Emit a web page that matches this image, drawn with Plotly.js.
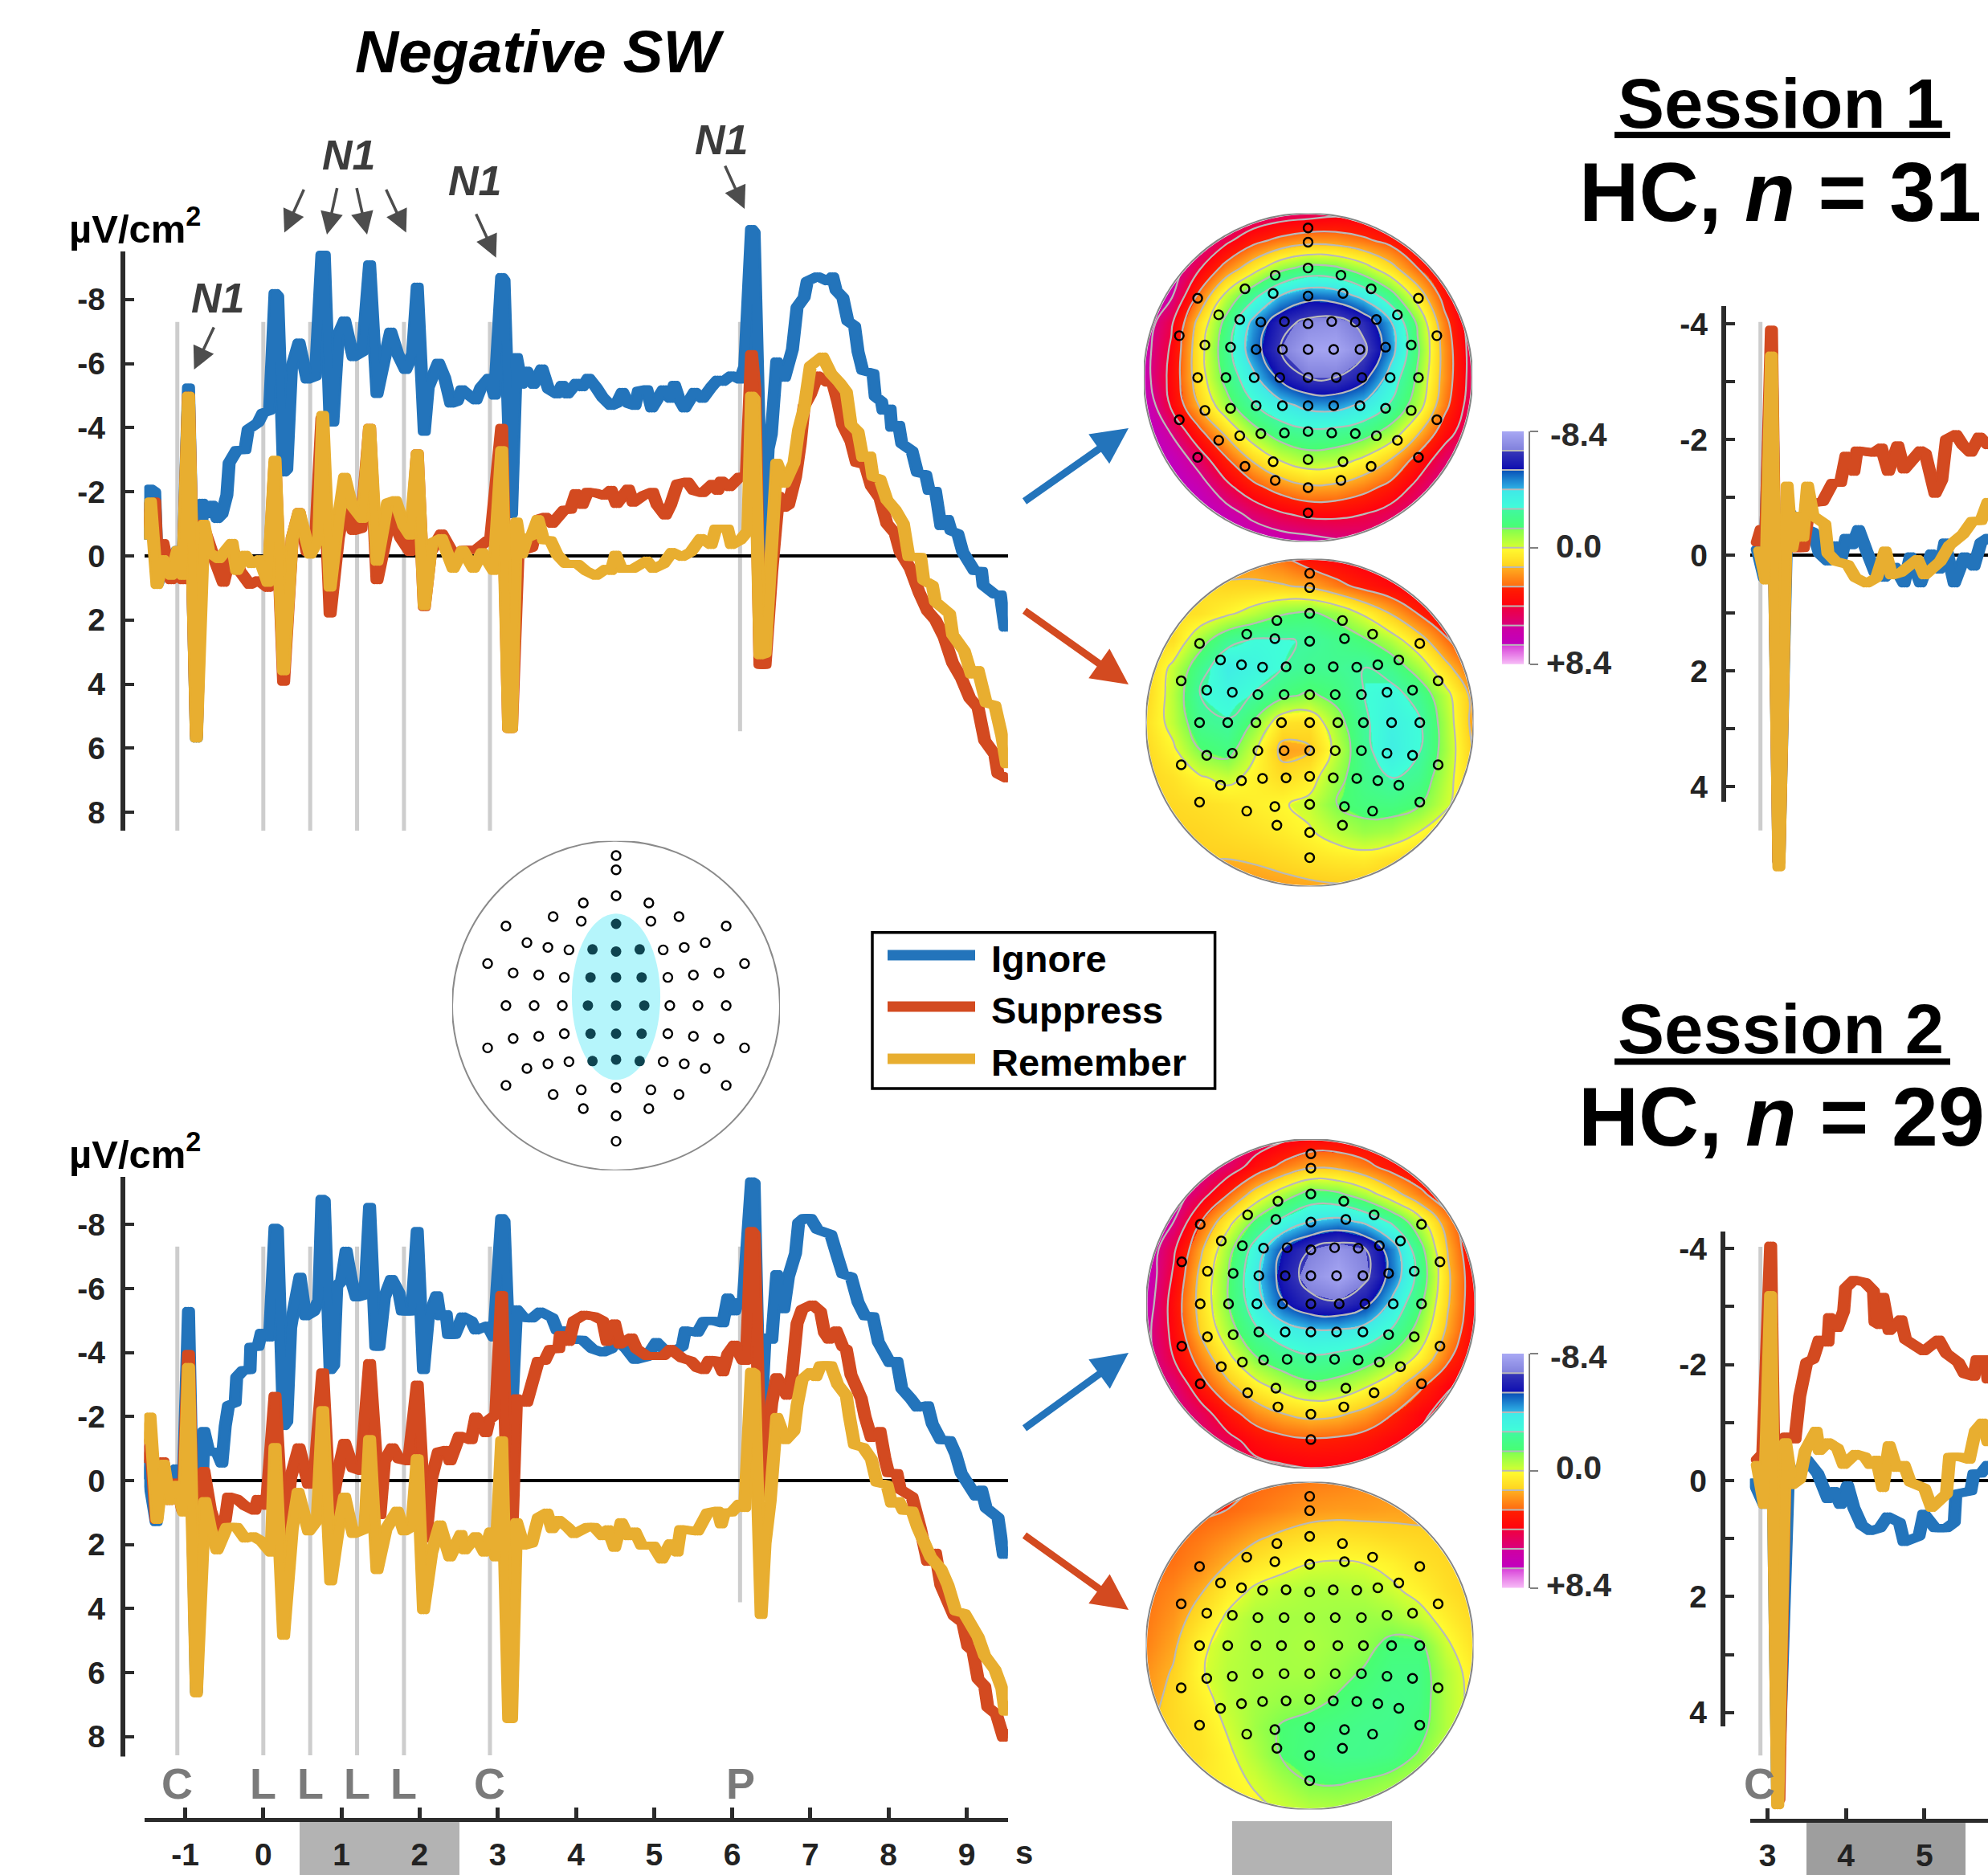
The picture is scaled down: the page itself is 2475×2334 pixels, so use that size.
<!DOCTYPE html>
<html><head><meta charset="utf-8">
<script src="https://cdn.plot.ly/plotly-3.0.1.min.js"></script>
<style>html,body{margin:0;padding:0;background:#fff}#chart{width:2475px;height:2334px}</style>
</head><body><div id="chart"></div>
<script>
// ---------- DATA: [seconds, µV/cm²] ----------
const s1Ignore=[[-1.54,-.63],[-1.45,-2.1],[-1.39,-2],[-1.35,.84],[-1.28,.1],[-1.18,.62],[-1.1,-.19],[-1.03,.62],[-.957,-5.26],[-.856,5.7],[-.78,-1.66],[-.7,-1.3],[-.655,-1.6],[-.59,-1.15],[-.53,-1.3],[-.466,-1.9],[-.437,-2.9],[-.34,-3.3],[-.235,-3.3],[-.193,-3.95],[-.067,-4.16],[-.005,-4.46],[.08,-4.53],[.15,-8.2],[.184,-8.1],[.26,-2.6],[.3,-2.7],[.36,-5.85],[.457,-6.66],[.56,-5.5],[.667,-5.6],[.75,-9.4],[.78,-9.4],[.855,-4.16],[.89,-4.16],[.96,-6.9],[1.04,-7.35],[1.15,-6.2],[1.27,-6.37],[1.36,-9.1],[1.455,-5.05],[1.55,-6.15],[1.63,-7],[1.72,-6.3],[1.82,-5.8],[1.91,-6.3],[1.97,-8.4],[2.06,-3.87],[2.11,-5.26],[2.24,-6.03],[2.32,-5.56],[2.4,-4.75],[2.48,-4.82],[2.54,-5.2],[2.64,-5],[2.72,-4.85],[2.785,-5.26],[2.89,-5.56],[2.96,-5],[3.05,-8.7],[3.08,-8.6],[3.176,-1.3],[3.24,-6.2],[3.306,-5.34],[3.37,-5.78],[3.457,-5.34],[3.565,-5.85],[3.65,-5.2],[3.76,-5.04],[3.825,-5.34],[3.89,-5.04],[4.007,-5.4],[4.08,-5.26],[4.16,-5.56],[4.257,-5.26],[4.344,-4.94],[4.45,-4.68],[4.52,-4.75],[4.595,-5.12],[4.67,-4.75],[4.755,-4.68],[4.8,-5.15],[4.906,-5.2],[4.97,-4.6],[5.12,-5.2],[5.21,-4.9],[5.26,-5.34],[5.32,-4.9],[5.39,-4.6],[5.52,-5.12],[5.62,-4.9],[5.73,-5.26],[5.815,-5.5],[5.88,-5.43],[5.99,-5.63],[6.1,-5.5],[6.16,-5.9],[6.247,-10.2],[6.28,-10.1],[6.385,.1],[6.46,-3.35],[6.5,-3.8],[6.57,-6.07],[6.67,-5.56],[6.77,-6.44],[6.83,-7.76],[6.92,-8.06],[6.96,-8.57],[7.09,-8.72],[7.22,-8.57],[7.285,-8.72],[7.33,-8.28],[7.415,-8.06],[7.48,-7.32],[7.565,-7.18],[7.61,-6.37],[7.67,-5.78],[7.8,-5.7],[7.83,-4.97],[7.91,-4.82],[7.93,-4.53],[8.02,-4.6],[8.04,-4],[8.13,-4.09],[8.17,-3.5],[8.3,-3.28],[8.37,-2.6],[8.475,-2.54],[8.52,-2.03],[8.6,-2.03],[8.67,-.93],[8.755,-1.15],[8.8,-.78],[8.885,-.7],[8.95,-.12],[9.1,.47],[9.19,.47],[9.21,.91],[9.36,1.2],[9.43,1.2],[9.49,2.24]];
const s1Suppress=[[-1.536,-1],[-1.45,-1.6],[-1.39,-1.7],[-1.35,.6],[-1.284,-.4],[-1.18,.76],[-1.095,.47],[-1.03,.76],[-.957,-5],[-.856,5.6],[-.78,-1],[-.655,-.1],[-.51,.84],[-.4,-.26],[-.3,.47],[-.17,.9],[-.067,.76],[.06,1],[.15,-2.9],[.26,3.93],[.37,-.56],[.457,-1.37],[.56,-.12],[.667,-.4],[.75,-4.3],[.855,1.8],[.96,-.56],[1.04,-1.6],[1.15,-.78],[1.25,-.85],[1.36,-4],[1.455,.76],[1.63,-1.3],[1.76,-.56],[1.88,-.12],[1.97,-3.2],[2.06,1.6],[2.14,-.12],[2.28,-.7],[2.45,.03],[2.55,-.19],[2.72,-.19],[2.91,-.56],[3.05,-4],[3.14,5.4],[3.176,5.4],[3.26,-.12],[3.435,-.26],[3.52,-1.15],[3.61,-1.22],[3.695,-1],[3.85,-1.44],[3.93,-1.44],[4,-1.96],[4.08,-1.59],[4.15,-2],[4.257,-1.96],[4.365,-1.88],[4.45,-2.06],[4.52,-1.62],[4.67,-2.1],[4.733,-1.66],[4.86,-1.88],[4.98,-2],[5.04,-1.59],[5.144,-1.26],[5.21,-1.59],[5.3,-2.25],[5.425,-2.32],[5.51,-2.03],[5.62,-1.96],[5.75,-2.25],[5.815,-2.03],[5.86,-2.35],[5.965,-2.15],[6.095,-2.47],[6.18,-2.47],[6.247,-6.3],[6.29,-5.2],[6.355,3.4],[6.42,3.4],[6.506,.47],[6.593,-1.88],[6.66,-1.5],[6.72,-1.59],[6.81,-2.47],[6.87,-3.5],[6.92,-4.68],[7,-5.04],[7.09,-5.63],[7.22,-5.41],[7.285,-5.41],[7.35,-4.82],[7.415,-4.09],[7.52,-3.57],[7.59,-2.91],[7.7,-2.84],[7.78,-2.18],[7.89,-1.8],[7.98,-1],[8.085,-.7],[8.15,-.12],[8.28,.4],[8.39,1.13],[8.5,1.72],[8.6,2],[8.71,2.53],[8.82,3.34],[8.93,3.8],[9.04,4.44],[9.145,4.73],[9.23,5.76],[9.36,6.2],[9.4,6.8],[9.51,6.94]];
const s1Remember=[[-1.536,-.63],[-1.444,-1.7],[-1.36,.91],[-1.284,.1],[-1.18,.62],[-1.095,-.19],[-1.03,.62],[-.957,-5],[-.856,5.7],[-.76,-1],[-.697,-.12],[-.57,.1],[-.4,-.41],[-.34,.47],[-.235,-.04],[-.15,.25],[-.046,.1],[.06,.84],[.15,-3],[.26,3.6],[.37,-.56],[.457,-1.37],[.6,-.04],[.71,-.56],[.76,-4.4],[.855,.99],[.96,-1.15],[1.04,-2.47],[1.13,-1.59],[1.27,-1.15],[1.36,-4],[1.455,.18],[1.59,-1.66],[1.69,-1.74],[1.8,-.93],[1.88,-.63],[1.97,-3.2],[2.06,1.57],[2.155,-.41],[2.28,-.56],[2.43,.4],[2.55,-.19],[2.69,.4],[2.8,-.12],[2.95,.47],[3.05,-3.3],[3.14,5.4],[3.176,5.4],[3.24,-1.07],[3.306,-.04],[3.37,-.56],[3.435,-.63],[3.513,-1.15],[3.587,-.49],[3.673,-.49],[3.76,-.04],[3.87,.25],[4.02,.25],[4.13,.47],[4.257,.62],[4.387,.4],[4.45,.47],[4.508,-.04],[4.58,.4],[4.733,.4],[4.906,.15],[4.99,.4],[5.12,.25],[5.23,-.12],[5.36,.03],[5.47,-.12],[5.6,-.56],[5.73,-.34],[5.79,-.85],[5.94,-.85],[5.99,-.34],[6.1,-.49],[6.2,-.78],[6.247,-5],[6.28,-4.9],[6.355,3.1],[6.42,3.05],[6.485,.47],[6.57,-2.91],[6.67,-2.25],[6.79,-2.9],[6.85,-3.94],[6.92,-4.6],[7,-5.93],[7.155,-6.22],[7.26,-5.7],[7.37,-5.41],[7.46,-5.12],[7.52,-4.09],[7.61,-3.87],[7.67,-3.06],[7.76,-3.13],[7.8,-2.47],[7.89,-2.4],[7.98,-1.74],[8.085,-1.44],[8.19,-1],[8.26,.03],[8.41,.03],[8.45,.76],[8.56,.91],[8.6,1.43],[8.78,1.8],[8.82,2.46],[8.97,2.97],[9.06,3.7],[9.145,3.56],[9.25,4.59],[9.36,4.66],[9.45,5.62],[9.51,6.5]];
const s2Ignore=[[-1.536,-.16],[-1.494,-.53],[-1.37,1.3],[-1.284,-.53],[-1.2,.28],[-1.116,-.38],[-1.03,.64],[-.957,-5.3],[-.856,6.6],[-.76,-1.55],[-.697,-.9],[-.592,-.9],[-.53,-.53],[-.487,-1.7],[-.445,-2.35],[-.36,-2.43],[-.34,-3.23],[-.256,-3.45],[-.17,-3.45],[-.16,-4.18],[-.067,-4.18],[-.025,-4.62],[.08,-4.47],[.15,-7.9],[.18,-7.85],[.26,-1.7],[.3,-1.84],[.35,-4.77],[.39,-5.35],[.47,-6.37],[.54,-5.13],[.645,-5.28],[.71,-5.64],[.75,-8.8],[.78,-8.75],[.855,-3.45],[.9,-3.6],[.94,-6.08],[1,-6.23],[1.06,-7.18],[1.13,-6.23],[1.19,-5.72],[1.3,-5.79],[1.36,-8.55],[1.44,-4.18],[1.48,-4.18],[1.55,-5.72],[1.64,-6.3],[1.736,-5.86],[1.78,-5.28],[1.9,-5.28],[1.97,-7.8],[2.05,-3.45],[2.11,-5.06],[2.22,-5.79],[2.26,-5.13],[2.34,-5.2],[2.37,-4.55],[2.45,-4.55],[2.55,-5.13],[2.66,-4.99],[2.72,-4.69],[2.87,-4.84],[2.95,-4.47],[3.05,-8.2],[3.08,-8.1],[3.176,-2],[3.24,-5.35],[3.33,-5.09],[3.435,-5.06],[3.544,-5.28],[3.695,-5.09],[3.76,-4.69],[3.87,-4.69],[3.955,-4.4],[4.084,-4.4],[4.214,-4.11],[4.344,-4],[4.45,-4.11],[4.52,-4.4],[4.647,-4.11],[4.755,-3.77],[4.906,-3.86],[5.03,-4.33],[5.12,-4.11],[5.25,-4.04],[5.36,-4.18],[5.4,-4.69],[5.555,-4.62],[5.64,-4.99],[5.77,-4.99],[5.88,-4.91],[5.945,-5.72],[6.03,-5.28],[6.07,-5.57],[6.14,-5.57],[6.247,-9.35],[6.28,-9.3],[6.355,-1.26],[6.42,-4.47],[6.506,-4.4],[6.57,-6.45],[6.66,-5.35],[6.72,-6.37],[6.81,-7.1],[6.85,-8.06],[6.92,-8.2],[7,-8.2],[7.09,-7.84],[7.26,-7.69],[7.35,-6.96],[7.415,-6.45],[7.52,-6.37],[7.61,-5.57],[7.7,-5.13],[7.8,-5.13],[7.87,-4.33],[8.02,-3.67],[8.107,-3.74],[8.17,-2.87],[8.28,-2.57],[8.37,-2.28],[8.5,-2.35],[8.56,-1.77],[8.67,-1.26],[8.78,-1.26],[8.86,-.82],[8.93,-.23],[9.12,.5],[9.19,.28],[9.25,.86],[9.4,1.15],[9.47,2.32],[9.51,2.18]];
const s2Suppress=[[-1.536,-.67],[-1.444,-1.26],[-1.37,1.23],[-1.284,-.6],[-1.2,.64],[-1.116,.06],[-1.03,.94],[-.957,-3.96],[-.856,5.8],[-.76,-.3],[-.675,.94],[-.57,1.67],[-.487,1.23],[-.445,.5],[-.34,.57],[-.235,.79],[-.11,.94],[-.067,.57],[.04,.79],[.15,-2.65],[.26,2.1],[.35,-.09],[.457,-1.04],[.58,.13],[.667,-.53],[.76,-3.38],[.855,1.08],[.94,-.09],[1.04,-1.18],[1.15,-.38],[1.25,-.3],[1.36,-3.67],[1.493,1.08],[1.55,-.6],[1.65,-1.04],[1.736,-.67],[1.86,-.6],[1.97,-3],[2.08,1.81],[2.155,-.09],[2.24,-.9],[2.34,-.96],[2.39,-.6],[2.51,-1.4],[2.66,-1.26],[2.72,-2],[2.85,-1.48],[2.89,-1.9],[2.975,-2.06],[3.05,-5.8],[3.14,1.81],[3.176,1.96],[3.24,-2.57],[3.37,-2.43],[3.435,-3],[3.52,-3.74],[3.6,-3.74],[3.673,-4.11],[3.78,-4.11],[3.8,-4.55],[3.91,-4.33],[3.976,-4.99],[4.106,-5.18],[4.236,-5.13],[4.344,-4.99],[4.4,-4.33],[4.452,-4.84],[4.495,-4.91],[4.56,-4.25],[4.71,-4.47],[4.776,-4.11],[4.906,-3.89],[5.12,-3.89],[5.21,-4.11],[5.36,-3.82],[5.47,-3.74],[5.555,-3.52],[5.64,-3.45],[5.706,-3.77],[5.815,-3.74],[5.88,-3.38],[5.945,-3.96],[6.03,-4.25],[6.14,-3.74],[6.18,-3.74],[6.247,-7.8],[6.28,-7.7],[6.37,.5],[6.42,-1.4],[6.46,-1.4],[6.506,-2.43],[6.57,-3.23],[6.7,-2.65],[6.765,-3.3],[6.83,-4.91],[6.895,-5.35],[7.025,-5.5],[7.13,-5.28],[7.18,-4.62],[7.24,-4.4],[7.33,-4.69],[7.415,-4.18],[7.46,-4.1],[7.52,-3.3],[7.65,-2.57],[7.7,-1.99],[7.78,-1.33],[7.89,-1.55],[7.955,-.67],[8,-.23],[8.107,-.23],[8.15,.28],[8.3,.5],[8.41,1.52],[8.5,2.54],[8.6,2.25],[8.67,3.27],[8.84,4.23],[8.95,4.44],[9.015,5.18],[9.08,5.32],[9.145,6.2],[9.23,6.42],[9.27,7.08],[9.38,7.3],[9.47,8.03],[9.51,7.88]];
const s2Remember=[[-1.536,-1.26],[-1.45,-2],[-1.36,1.23],[-1.276,-.53],[-1.2,.64],[-1.108,.13],[-1.02,1],[-.957,-3.55],[-.856,6.65],[-.747,.64],[-.675,1.52],[-.592,2.18],[-.466,1.45],[-.34,1.45],[-.235,1.81],[-.13,1.74],[-.025,1.89],[.1,2.25],[.15,-1.05],[.26,4.85],[.37,1.52],[.445,.35],[.58,1.59],[.69,1.23],[.76,-2.2],[.863,3.15],[.96,1.52],[1.04,.5],[1.15,1.67],[1.3,1.52],[1.36,-1.3],[1.455,2.8],[1.57,1.52],[1.715,.94],[1.8,1.59],[1.9,1.45],[1.97,-.7],[2.05,4.05],[2.155,2.25],[2.26,1.37],[2.387,2.4],[2.53,1.67],[2.575,2.18],[2.72,1.74],[2.83,2.25],[2.91,1.59],[2.975,2.4],[3.05,-1.26],[3.14,7.45],[3.176,7.45],[3.24,1.3],[3.33,2.03],[3.435,1.96],[3.52,1.15],[3.63,1],[3.695,1.52],[3.78,1.23],[3.89,1.45],[3.976,1.67],[4.15,1.45],[4.236,1.45],[4.344,1.74],[4.41,1.52],[4.495,2.1],[4.58,1.3],[4.668,1.74],[4.755,1.59],[4.84,2.03],[4.99,2.03],[5.1,2.47],[5.21,1.96],[5.295,2.25],[5.34,1.52],[5.555,1.59],[5.685,1],[5.815,.94],[5.86,1.37],[5.9,1],[5.99,1],[6.096,.72],[6.16,.86],[6.247,-3.4],[6.28,-3.35],[6.37,4.2],[6.42,1.96],[6.485,.64],[6.57,-1.99],[6.68,-1.26],[6.79,-1.55],[6.83,-2.35],[6.895,-3.16],[7,-3.38],[7.07,-3.23],[7.13,-3.6],[7.26,-3.6],[7.35,-3],[7.46,-2.65],[7.5,-1.99],[7.565,-1.11],[7.675,-1.04],[7.78,-.67],[7.85,.06],[7.98,.13],[8.04,.72],[8.13,.64],[8.19,.94],[8.3,.94],[8.37,1.45],[8.54,2.4],[8.67,2.76],[8.76,3.27],[8.86,4.08],[8.97,4.15],[9.145,4.88],[9.23,5.47],[9.36,5.9],[9.45,6.49],[9.49,7.22],[9.53,7]];
const r1Ignore=[[2.87,-.1],[2.96,.4],[3.05,-3.4],[3.145,5.3],[3.25,-.8],[3.4,-.5],[3.58,-.4],[3.66,-.03],[3.77,.11],[3.85,-.17],[3.93,.11],[4,-.3],[4.08,-.17],[4.16,-.45],[4.26,-.08],[4.37,.3],[4.49,.39],[4.62,.2],[4.74,.49],[4.82,.02],[4.95,.49],[5.09,-.03],[5.19,.25],[5.26,-.22],[5.38,.49],[5.51,.02],[5.63,.2],[5.72,-.22],[5.81,-.3]];
const r1Suppress=[[2.87,-.22],[2.92,-.45],[2.98,-.4],[3.05,-3.9],[3.145,5.3],[3.23,-.12],[3.456,-.12],[3.54,-.9],[3.7,-.92],[3.83,-1.25],[3.93,-1.25],[4,-1.72],[4.1,-1.44],[4.14,-1.81],[4.35,-1.77],[4.45,-1.86],[4.54,-1.44],[4.66,-1.9],[4.74,-1.48],[4.95,-1.81],[5.01,-1.76],[5.135,-1.06],[5.22,-1.3],[5.28,-2],[5.4,-2.09],[5.49,-1.9],[5.59,-1.77],[5.7,-2.05],[5.81,-1.9]];
const r1Remember=[[2.9,-.08],[2.98,.44],[3.05,-3.45],[3.145,5.4],[3.25,-1.2],[3.31,-.12],[3.39,-.68],[3.45,-.3],[3.51,-1.2],[3.58,-.68],[3.73,-.54],[3.77,-.03],[3.87,.11],[4.02,.16],[4.12,.39],[4.265,.49],[4.39,.39],[4.5,-.08],[4.58,.35],[4.7,.3],[4.91,.07],[5,.35],[5.2,.11],[5.32,-.17],[5.49,-.36],[5.61,-.59],[5.72,-.59],[5.81,-.92]];
const r2Ignore=[[2.83,.03],[2.96,.42],[3.04,-3.1],[3.13,5.5],[3.27,-.27],[3.35,.03],[3.5,-.36],[3.64,-.12],[3.77,.32],[3.85,.18],[3.93,.42],[4.02,.08],[4.1,.47],[4.2,.77],[4.31,.87],[4.43,.82],[4.53,.62],[4.68,.72],[4.74,1.06],[4.93,.96],[4.99,.57],[5.135,.82],[5.28,.82],[5.38,.72],[5.4,.23],[5.59,.18],[5.63,-.12],[5.72,-.12],[5.81,-.27]];
const r2Suppress=[[2.87,-.36],[2.94,-.46],[3.04,-4.05],[3.145,5.5],[3.23,-.76],[3.35,-.71],[3.41,-1.45],[3.5,-2.04],[3.58,-2.09],[3.66,-2.43],[3.77,-2.38],[3.79,-2.82],[3.89,-2.63],[3.97,-2.92],[3.995,-3.32],[4.1,-3.46],[4.24,-3.42],[4.35,-3.27],[4.37,-2.73],[4.43,-2.68],[4.47,-3.17],[4.55,-2.58],[4.7,-2.78],[4.76,-2.43],[4.99,-2.23],[5.18,-2.43],[5.28,-2.19],[5.43,-2.04],[5.51,-1.84],[5.63,-1.79],[5.67,-2.09],[5.78,-2.09],[5.81,-1.74]];
const r2Remember=[[2.87,-.27],[2.96,.42],[3.04,-3.2],[3.13,5.6],[3.23,-.66],[3.31,.08],[3.41,-.02],[3.48,-.51],[3.62,-.86],[3.66,-.51],[3.77,-.66],[3.89,-.56],[3.97,-.27],[4.12,-.46],[4.24,-.41],[4.31,-.27],[4.39,-.36],[4.47,.13],[4.55,-.61],[4.64,-.22],[4.74,-.27],[4.82,.03],[5,.13],[5.09,.47],[5.28,.23],[5.32,-.41],[5.45,-.41],[5.57,-.36],[5.65,-.86],[5.74,-1],[5.81,-.66]];

const seriesNames=['Ignore','Suppress','Remember'];
const seriesColors=['#2374bb','#d34a20','#e8ae30'];
const leftTickVals=[-8,-6,-4,-2,0,2,4,6,8];
const leftTickText=['-8','-6','-4','-2','0','2','4','6','8'];
const rightTickVals=[-4,-2,0,2,4];
const rightTickText=['-4','-2','0','2','4'];
const rightMinorTicks=[-3,-1,1,3];
const leftTimeTicks=[-1,0,1,2,3,4,5,6,7,8,9];
const leftTimeText=['-1','0','1','2','3','4','5','6','7','8','9'];
const rightTimeTicks=[3,4,5];
const rightTimeText=['3','4','5'];
const cueTimes=[-1.1,0,.6,1.2,1.8,2.9];
const cueLabels=['C','L','L','L','L','C'];
const probeTime=6.1;

// topographic maps: µV/cm² on a 13×13 grid across the head, front at top
const gridAxis=[-1,-.833,-.667,-.5,-.333,-.167,0,.167,.333,.5,.667,.833,1];
const map1Z=[[6,6,6,6,5.5,5,4.8,4.5,4.5,5,5,5,5],
[6.5,6.5,6,4.5,3.2,2.4,1.9,2,2.5,3.2,4.2,5,5],
[7,6.5,4.4,2.3,.6,-1,-1.8,-1.6,-.6,.9,2.8,4.2,5],
[7,5.8,2.6,-.3,-2.4,-4.2,-5.1,-4.9,-3.8,-2,.6,3.4,5.5],
[6.5,4.4,1,-1.8,-4.6,-6.5,-7.4,-7.6,-6.6,-4.4,-1.2,2.4,5],
[6.2,4,.6,-2.2,-5,-7,-8.2,-8.3,-7.4,-4.8,-1.6,2,4.8],
[6.2,3.8,.7,-1.8,-3.9,-5.9,-7,-7,-6.1,-3.7,-1.2,2,4.8],
[6.8,4,1.4,-.9,-2.7,-3.8,-4.6,-4.7,-4,-2.7,-.7,2.4,5],
[7.5,5.5,3.2,1.1,-.9,-2.1,-2.5,-2.4,-2,-.9,1.2,3.6,5.2],
[7.8,6.8,5,3,1.2,-.1,-.8,-.6,.2,1.4,3.3,5,6],
[8,7.5,6.4,4.6,3.2,2.2,1.6,1.7,2.3,3.2,4.6,6,6.5],
[8,8,7.4,6.3,5.2,4.4,3.9,3.9,4.2,4.8,5.5,6.5,7],
[8,8,8,7.5,6.8,6.4,6.2,5.8,5.5,5.5,6,7,7]];
const map2Z=[[2,2,2,2,2,2.6,3.5,4,4.4,4.6,4.6,4.6,4.6],
[1,1,1,1.2,1.2,1.3,1.6,2.4,3.2,3.8,4.4,4.6,4.6],
[1,1,.8,.2,-.5,-1.3,-1.6,-1,.2,1.5,2.9,4,4.6],
[1.2,.9,-.9,-2.4,-3,-2.9,-2.7,-2.2,-1.6,-.6,.8,2.6,4.2],
[1.2,-.3,-2.2,-3.9,-3.4,-2.8,-2.4,-2.4,-2.8,-2.2,-.8,1,2.8],
[1.2,-.5,-2.8,-3.3,-2.7,-1.7,-1.2,-1.8,-2.8,-3.3,-2.3,-.4,1.8],
[.9,-.4,-2.3,-2.7,-1.2,.8,.9,-.9,-2.6,-3.6,-3,-.7,1.8],
[1.1,.2,-1.4,-1.9,-.1,1.7,1.5,-.4,-2.4,-3.8,-2.9,-.8,1.5],
[1.2,.8,.1,-.3,.3,1,.5,-1,-2.2,-2.9,-2.3,-.5,1.3],
[1.2,1.1,.9,.7,.4,.1,-.3,-1.4,-1.8,-1.9,-1.5,-.2,1],
[1.4,1.3,1.2,1,.8,.5,.1,-.5,-1,-.8,0,.8,1.2],
[1.6,1.5,1.4,1.4,1.3,1.1,.8,.6,.5,.9,1.2,1.4,1.6],
[1.8,1.8,1.8,1.8,1.8,1.7,1.6,1.5,1.5,1.6,1.6,1.6,1.6]];
const map3Z=[[6,6,6,6,5,4.4,3.8,3.8,4,4,4,4.2,4.2],
[7,6.8,6,5,3.6,2.4,1.6,1.7,2.4,3.4,4,4.4,4.4],
[7.2,6.4,4.8,2.8,.8,-.7,-1.9,-1.6,-.6,.9,2.5,3.9,4.5],
[7,5.6,2.8,.4,-1.7,-3.2,-4.2,-4.6,-3.9,-2.5,-.4,2.2,4.2],
[6.6,4.4,1.6,-1,-3.4,-5.7,-7,-7.7,-7,-4.8,-1.8,1.5,4.1],
[6.6,4,1,-1.4,-3.9,-6.2,-7.6,-8.3,-7.3,-5,-2.2,1.2,3.8],
[6.4,3.6,.9,-1.4,-3.6,-5.5,-6.6,-6.8,-5.9,-3.8,-1.6,1.3,3.8],
[6,3.8,1.2,-.8,-2.6,-3.5,-4,-4,-3.6,-2.6,-.8,1.7,4],
[6.2,4.2,2.2,.3,-1.3,-2.2,-2.6,-2.4,-2,-1,.4,2.6,4.2],
[6.5,5.4,3.3,1.7,.4,-.5,-1.1,-.9,-.1,.9,2.6,4.1,4.6],
[6.5,6,4.8,3.3,2.1,1.4,1,1.2,1.8,2.8,4,4.6,4.6],
[6.5,6,5.5,4.6,3.7,3.2,3,3.1,3.4,4,4.4,4.6,4.6],
[6,6,5.5,5,4.6,4.4,4.2,4.2,4.3,4.4,4.4,4.4,4.4]];
const map4Z=[[3,3,3,3,2.8,2.6,2.4,2.3,2.1,2,2,2,2],
[3,3,3,2.8,2.5,2.2,1.9,1.8,1.8,1.7,1.7,1.6,1.5],
[2.8,2.8,2.5,2.1,1.6,1.2,.9,.8,.9,1.1,1.2,1.3,1.3],
[2.7,2.6,2.1,1.4,.7,.3,0,-.1,0,.3,.8,1.1,1.3],
[2.6,2.2,1.5,.5,-.2,-.5,-.7,-.7,-.6,-.2,.3,.9,1.3],
[2.5,1.9,.9,-.2,-.7,-.8,-.8,-.9,-1,-.9,-.4,.4,1.1],
[2.3,1.6,.2,-.4,-.7,-.8,-.7,-.9,-1.1,-1.7,-1.7,-.2,.8],
[2,1.3,.1,-.5,-.7,-.8,-.8,-1.1,-1.5,-2,-2,-.6,.4],
[1.8,1.1,.4,-.4,-.8,-1,-1.1,-1.5,-1.9,-2.2,-2,-.6,.3],
[1.5,1.1,.7,-.1,-.9,-1.5,-1.8,-2,-2.2,-2.2,-1.8,-.6,.3],
[1.2,1,.8,.2,-.6,-1.5,-1.9,-2.2,-2.2,-2,-1.3,-.2,.3],
[1,.8,.6,.3,-.1,-.8,-1.4,-1.5,-1.3,-1,-.5,0,.3],
[.6,.6,.5,.4,.2,-.1,-.5,-.6,-.5,-.3,0,.2,.3]];
const scaleLevels=[-8.4,-7.7,-7,-6.3,-5.6,-4.9,-4.2,-3.5,-2.8,-2.1,-1.4,-.7,0,.7,1.4,2.1,2.8,3.5,4.2,4.9,5.6,6.3,7,7.7,8.4];
const scaleTickVals=[-8.4,0,8.4];
const scaleTickText=['-8.4','0.0','+8.4'];

// electrodes: [front-back, |left-right|] on the unit head; mirrored left and right
const midlineOpen=[-.911,-.824,-.667,.499,.67,.824];
const midlineRoi=[-.496,-.328,-.171,0,.171,.328];
const pairedOpen=[[-.623,.2],[-.54,.384],[-.512,.2125],[-.483,.672],[-.382,.544],[-.353,.416],[-.338,.2875],[-.255,.784],[-.198,.628],[-.185,.472],[-.171,.316],[0,.672],[0,.5],[0,.328],[.171,.316],[.187,.472],[.2,.628],[.257,.784],[.341,.2875],[.354,.416],[.382,.544],[.485,.672],[.512,.2125],[.54,.384],[.626,.2]];
const pairedRoi=[[-.341,.144],[-.171,.156],[0,.172],[.171,.156],[.337,.144]];

// ---------- LAYOUT HELPERS ----------
const W=2475,H=2334;
const fx=p=>p/W, fy=p=>1-p/H;
const FONT='"Liberation Sans", Arial, sans-serif';
const INK='#2b2b2b';
const bands=[['#a8a8f4','#8080dc'],['#3838b8','#0c0cb0'],['#0a50b8','#30b8e8'],['#40e8e8','#40ffd8'],['#40f8a0','#48ff70'],['#80ff50','#d8ff30'],['#fffc30','#ffd020'],['#ffb020','#ff6810'],['#ff2000','#ff0010'],['#f00040','#d80080'],['#d000a0','#c000c0'],['#d840d8','#f8c0f8']];
const colorscale=[];bands.forEach((b,k)=>{colorscale.push([k/12,b[0]]);colorscale.push([(k+1)/12,b[1]]);});

const data=[],shapes=[],annotations=[],layout={};
const xs=a=>a.map(p=>p[0]), ys=a=>a.map(p=>p[1]);
// the printed strokes are wider across than they are tall: each line is laid down three times, a hair apart in time
const strokeSpread=[-.032,.032,0];
function lines(idx,trio){trio.forEach((s,i)=>strokeSpread.forEach(d=>data.push({type:'scatter',mode:'lines',name:seriesNames[i],x:xs(s).map(t=>t+d),y:ys(s),
  xaxis:'x'+idx,yaxis:'y'+idx,showlegend:false,hoverinfo:'skip',
  line:{color:seriesColors[i],width:10,simplify:false,shape:'linear'}})));}
function waveAxes(idx,x0,x1,t0Px,pxPerS,y0,y1,clipTop,clipBottom,zeroPx,pxPerU,axisX,tv,tt,showX,xTv,xTt,xAxisY,minor,standoff){
  const xn='xaxis'+(idx===1?'':idx), yn='yaxis'+(idx===1?'':idx);
  layout[xn]={domain:[fx(x0),Math.min(1,fx(x1))],range:[(x0-t0Px)/pxPerS,(x1-t0Px)/pxPerS],anchor:'free',position:showX?fy(xAxisY):0,
    visible:showX,showgrid:false,zeroline:false,showline:true,linecolor:INK,linewidth:5,ticks:'inside',ticklen:13,tickwidth:5,tickcolor:INK,
    tickmode:'array',tickvals:xTv,ticktext:xTt,tickangle:0,ticklabelstandoff:7,tickfont:{family:FONT,size:39,color:'#222',weight:700},fixedrange:true};
  layout[yn]={domain:[fy(clipBottom),fy(clipTop)],range:[(clipBottom-zeroPx)/pxPerU,(clipTop-zeroPx)/pxPerU],anchor:'free',position:fx(axisX),side:'left',
    showgrid:false,zeroline:true,zerolinecolor:'#000',zerolinewidth:4,showline:false,ticks:'inside',ticklen:13,tickwidth:4,tickcolor:INK,
    tickmode:'array',tickvals:tv,ticktext:tt,ticklabelstandoff:standoff,tickfont:{family:FONT,size:39,color:'#222',weight:700},fixedrange:true};
  if(minor)layout[yn].minor={tickmode:'array',tickvals:minor,ticks:'inside',ticklen:13,tickwidth:4,tickcolor:INK,showgrid:false};
  shapes.push({type:'line',xref:'paper',yref:'paper',x0:fx(axisX),x1:fx(axisX),y0:fy(y0),y1:fy(y1),line:{color:INK,width:6}});
}
function cue(idx,t,v0,v1){shapes.push({type:'line',layer:'below',xref:'x'+(idx===1?'':idx),yref:'y'+(idx===1?'':idx),x0:t,x1:t,y0:v0,y1:v1,line:{color:'#cdcdcd',width:5}});}
function rect(x0,y0,x1,y1,fill){shapes.push({type:'rect',layer:'below',xref:'paper',yref:'paper',x0:fx(x0),x1:fx(x1),y0:fy(y0),y1:fy(y1),fillcolor:fill,line:{width:0}});}
function label(text,x,y,size,opt){opt=opt||{};annotations.push({text,xref:'paper',yref:'paper',x:fx(x),y:fy(y),xanchor:opt.anchor||'center',yanchor:'middle',showarrow:false,
  font:{family:FONT,size,color:opt.color||'#000',weight:opt.weight||700,style:opt.style||'normal'}});}
function arrow(x1,y1,x0,y0,color,width,size){annotations.push({text:'',xref:'paper',yref:'paper',x:fx(x1),y:fy(y1),axref:'pixel',ayref:'pixel',ax:x0-x1,ay:y0-y1,showarrow:true,arrowhead:2,arrowsize:size,arrowwidth:width,arrowcolor:color,standoff:0,startstandoff:0});}
function hline(x0,y,x1,w,color){shapes.push({type:'line',xref:'paper',yref:'paper',x0:fx(x0),x1:fx(x1),y0:fy(y),y1:fy(y),line:{color,width:w}});}

// ---------- WAVEFORM PANELS ----------
waveAxes(1,179.6,1254.7,327.8,97.3,313,1034,250,1100,692,39.9,153,leftTickVals,leftTickText,false,leftTimeTicks,leftTimeText,0,null,22);
waveAxes(2,179.6,1254.7,327.8,97.3,1465,2186.5,1440,2262,1843,39.85,153,leftTickVals,leftTickText,true,leftTimeTicks,leftTimeText,2265,null,22);
waveAxes(3,2178.6,2475,2200.5-3*97.7,97.7,381,998,381,1100,691,72,2146,rightTickVals,rightTickText,false,rightTimeTicks,rightTimeText,0,rightMinorTicks,20);
waveAxes(4,2178.6,2475,2200.5-3*97.7,97.7,1533,2149,1533,2262,1843,72.2,2145,rightTickVals,rightTickText,true,rightTimeTicks,rightTimeText,2266,rightMinorTicks,20);
lines(1,[s1Ignore,s1Suppress,s1Remember]);
lines(2,[s2Ignore,s2Suppress,s2Remember]);
lines(3,[r1Ignore,r1Suppress,r1Remember]);
lines(4,[r2Ignore,r2Suppress,r2Remember]);
cueTimes.forEach(t=>{cue(1,t,-7.3,8.57);cue(2,t,-7.31,8.58);});
cue(1,probeTime,-7.3,5.47);cue(2,probeTime,-7.31,3.8);
cue(3,2.91,-4.03,4.76);cue(4,2.91,-4.03,4.74);
rect(373,2268,572,2334,'#b3b3b3');
rect(1534,2267,1733,2334,'#b3b3b3');
rect(2249,2269,2447,2334,'#9e9e9e');

// ---------- HEAD MAPS ----------
function headAxes(idx,cx,cy,rx,ry){
  layout['xaxis'+idx]={domain:[fx(cx-rx),fx(cx+rx)],range:[-1,1],visible:false,anchor:'y'+idx,fixedrange:true};
  layout['yaxis'+idx]={domain:[fy(cy+ry),fy(cy-ry)],range:[1,-1],visible:false,anchor:'x'+idx,fixedrange:true};
}
function headOutline(idx,color,w){shapes.push({type:'circle',xref:'x'+idx,yref:'y'+idx,x0:-1,x1:1,y0:-1,y1:1,line:{color,width:w}});}
const K=.5523;
const holePath=`M -1 -1 L 1 -1 L 1 1 L -1 1 Z M -1 0 C -1 ${-K} ${-K} -1 0 -1 C ${K} -1 1 ${-K} 1 0 C 1 ${K} ${K} 1 0 1 C ${-K} 1 -1 ${K} -1 0 Z`;
function electrodes(idx,size,lw){
  const ox=[],oy=[],rx=[],ry=[];
  midlineOpen.forEach(v=>{ox.push(0);oy.push(v);});
  pairedOpen.forEach(p=>{ox.push(-p[1],p[1]);oy.push(p[0],p[0]);});
  midlineRoi.forEach(v=>{rx.push(0);ry.push(v);});
  pairedRoi.forEach(p=>{rx.push(-p[1],p[1]);ry.push(p[0],p[0]);});
  data.push({type:'scatter',mode:'markers',x:ox.concat(idx===9?[]:rx),y:oy.concat(idx===9?[]:ry),xaxis:'x'+idx,yaxis:'y'+idx,showlegend:false,hoverinfo:'skip',
    marker:{symbol:'circle-open',size,color:'#000',line:{width:lw,color:'#000'}}});
  if(idx===9)data.push({type:'scatter',mode:'markers',x:rx,y:ry,xaxis:'x9',yaxis:'y9',showlegend:false,hoverinfo:'skip',marker:{symbol:'circle',size:size+2,color:'#0e4450'}});
}
function topomap(idx,z,cx,cy,r){
  headAxes(idx,cx,cy,r,r);
  data.push({type:'heatmap',x:gridAxis,y:gridAxis,z,zmin:-8.4,zmax:8.4,zsmooth:'best',colorscale,showscale:false,xaxis:'x'+idx,yaxis:'y'+idx,hoverinfo:'skip'});
  data.push({type:'contour',x:gridAxis,y:gridAxis,z,autocontour:false,contours:{start:-7,end:7,size:1.4,coloring:'none'},line:{color:'#b9b9b9',width:2.2,smoothing:1.3},showscale:false,xaxis:'x'+idx,yaxis:'y'+idx,hoverinfo:'skip'});
  electrodes(idx,11,2.4);
  shapes.push({type:'path',layer:'above',xref:'x'+idx,yref:'y'+idx,path:holePath,fillcolor:'#fff',fillrule:'evenodd',line:{color:'#fff',width:3}});
  // a white frame in page space hides the heatmap's square edge
  shapes.push({type:'rect',layer:'above',xref:'paper',yref:'paper',x0:fx(cx-r-2),x1:fx(cx+r+2),y0:fy(cy+r+2),y1:fy(cy-r-2),fillcolor:'rgba(0,0,0,0)',line:{color:'#fff',width:5}});
  headOutline(idx,'#858585',2);
}
topomap(5,map1Z,1628.5,470,204.5);
topomap(6,map2Z,1630.5,899.5,204);
topomap(7,map3Z,1632,1623,205);
topomap(8,map4Z,1630.5,2048.5,204);

// montage head with highlighted region
headAxes(9,767,1251.7,204,205);
shapes.push({type:'circle',layer:'below',xref:'x9',yref:'y9',x0:-.27,x1:.27,y0:-.558,y1:.452,fillcolor:'#b5f5fb',line:{width:0}});
headOutline(9,'#8a8a8a',2);
electrodes(9,11,2.4);

// ---------- COLOUR SCALES ----------
function scaleBar(idx,y0,y1,labelYs){
  layout['xaxis'+idx]={domain:[fx(1870),fx(1897)],range:[0,1],visible:false,anchor:'free',position:0,fixedrange:true};
  layout['yaxis'+idx]={domain:[fy(y1),fy(y0)],range:[8.4,-8.4],anchor:'free',position:fx(1903.6),side:'right',showgrid:false,zeroline:false,showline:true,linecolor:'#808080',linewidth:2,
    ticks:'outside',ticklen:10,tickwidth:2,tickcolor:'#808080',tickmode:'array',tickvals:scaleTickVals,showticklabels:false,fixedrange:true};
  const z=scaleLevels.map(v=>[v,v]);
  data.push({type:'heatmap',x:[0,1],y:scaleLevels,z,zmin:-8.4,zmax:8.4,zsmooth:'best',colorscale,showscale:false,xaxis:'x'+idx,yaxis:'y'+idx,hoverinfo:'skip'});
  data.push({type:'contour',x:[0,1],y:scaleLevels,z,autocontour:false,contours:{start:-7,end:7,size:1.4,coloring:'none'},line:{color:'#b9b9b9',width:2},showscale:false,xaxis:'x'+idx,yaxis:'y'+idx,hoverinfo:'skip'});
  scaleTickText.forEach((t,i)=>label(t,1965.5,labelYs[i],41,{color:'#2a2a2a'}));
}
scaleBar(10,536.7,827,[541,680,825]);
scaleBar(11,1685,1976.6,[1689,1827,1973]);

// ---------- TEXT ----------
label('Negative SW',672,64,75,{style:'italic'});
label('Session 1',2217,128,87);hline(2010,168,2428,8,'#000');
label('HC, <i>n</i> = 31',2216,239,103);
label('Session 2',2217,1280,87);hline(2010,1321.5,2428,8,'#000');
label('HC, <i>n</i> = 29',2218,1390,104);
label('µV/cm<sup>2</sup>',168,281,49);label('µV/cm<sup>2</sup>',168,1433,49);
const DARK='#3c3c3c';
[[271,371],[434,193],[590.6,225],[897.8,174]].forEach(p=>label('N1',p[0],p[1],52,{style:'italic',color:DARK}));
[[241.6,460,267,406],[354,289.6,379,234.5],[407,292,420,232.7],[457,292,443.7,232.7],[505.7,289.6,480,234.5],[617.6,320.7,592,265],[927,260,902,205]]
  .forEach(a=>arrow(a[0],a[1],a[2],a[3],'#4d4d4d',3.5,1.6));
arrow(1405,533,1274,625,seriesColors[0],9,1);
arrow(1405,852,1274,759,seriesColors[1],9,1);
arrow(1405,1684,1274,1779,seriesColors[0],9,1);
arrow(1405,2004,1274,1910,seriesColors[1],9,1);
cueTimes.forEach((t,i)=>label(cueLabels[i],327.8+97.3*t,2220,54,{color:'#7a7a7a'}));
label('P',922,2220,54,{color:'#7a7a7a'});
label('C',2190,2220,54,{color:'#7a7a7a'});
label('s',1275,2306,40,{color:'#222'});

// legend
shapes.push({type:'rect',xref:'paper',yref:'paper',x0:fx(1086),x1:fx(1512.6),y0:fy(1355),y1:fy(1160.7),fillcolor:'#fff',line:{color:'#000',width:3.5},layer:'above'});
[1189,1253,1318].forEach((y,i)=>{
  shapes.push({type:'line',layer:'above',xref:'paper',yref:'paper',x0:fx(1105),x1:fx(1214),y0:fy(y),y1:fy(y),line:{color:seriesColors[i],width:13}});
  label(seriesNames[i],1232,y+4,47,{anchor:'left'});
});

Object.assign(layout,{width:W,height:H,margin:{l:0,r:0,t:0,b:0,pad:0},paper_bgcolor:'#fff',plot_bgcolor:'rgba(0,0,0,0)',showlegend:false,shapes,annotations,hovermode:false});
Plotly.newPlot('chart',data,layout,{staticPlot:true,displayModeBar:false}).then(()=>{
  document.querySelectorAll('.scatterlayer .js-line').forEach(e=>{e.style.strokeLinejoin='round';e.style.strokeLinecap='round';});
});
</script></body></html>
